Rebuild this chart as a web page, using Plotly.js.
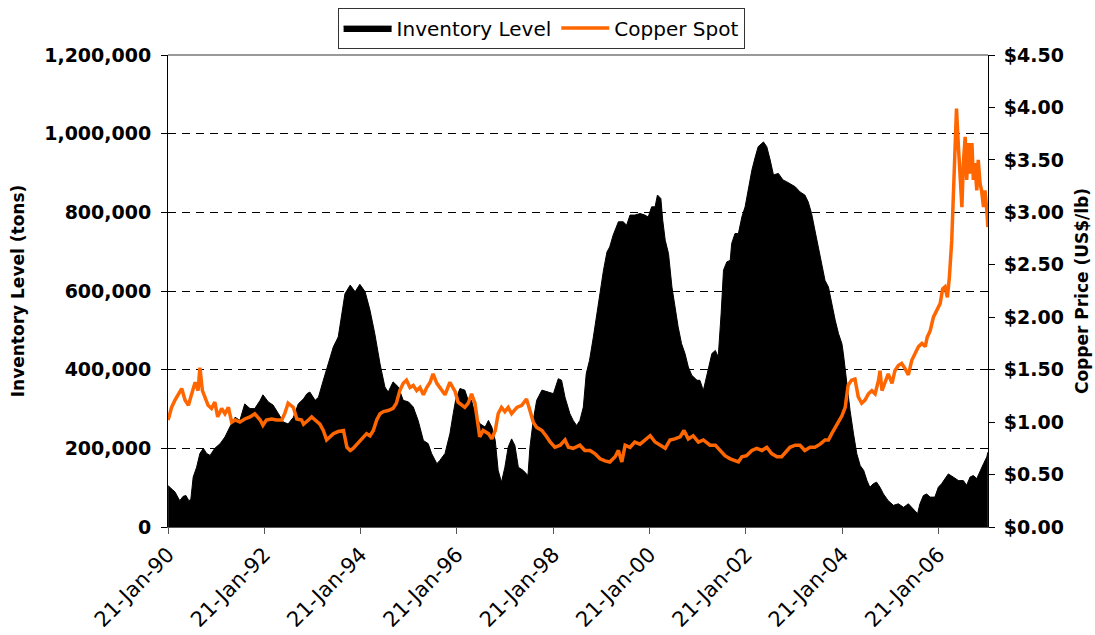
<!DOCTYPE html>
<html>
<head>
<meta charset="utf-8">
<script src="https://cdn.plot.ly/plotly-3.0.1.min.js"></script>
<style>html,body{margin:0;padding:0;background:#fff;}#chart{width:1095px;height:635px;}</style>
</head>
<body>
<div id="chart"></div>
<script>
// ---- Data (decimal years) ----
const invYears = [1990.06,1990.20,1990.30,1990.37,1990.43,1990.49,1990.53,1990.58,1990.65,1990.72,1990.79,1990.86,1990.93,1991.03,1991.14,1991.24,1991.34,1991.45,1991.55,1991.65,1991.76,1991.86,1991.97,1992.03,1992.14,1992.24,1992.35,1992.45,1992.55,1992.66,1992.76,1992.87,1992.94,1993.00,1993.11,1993.18,1993.28,1993.38,1993.49,1993.59,1993.66,1993.73,1993.84,1993.94,1994.04,1994.15,1994.25,1994.35,1994.46,1994.56,1994.63,1994.73,1994.84,1994.94,1995.05,1995.15,1995.25,1995.36,1995.46,1995.53,1995.64,1995.70,1995.81,1995.91,1995.98,1996.03,1996.12,1996.22,1996.29,1996.36,1996.43,1996.53,1996.64,1996.71,1996.78,1996.85,1996.91,1996.98,1997.05,1997.12,1997.19,1997.26,1997.33,1997.43,1997.53,1997.57,1997.64,1997.71,1997.82,1997.95,1998.06,1998.16,1998.23,1998.30,1998.40,1998.47,1998.54,1998.61,1998.68,1998.74,1998.81,1998.89,1998.96,1999.03,1999.10,1999.17,1999.23,1999.30,1999.41,1999.51,1999.58,1999.65,1999.75,1999.86,1999.96,2000.03,2000.10,2000.17,2000.22,2000.29,2000.33,2000.38,2000.45,2000.52,2000.58,2000.65,2000.72,2000.79,2000.86,2000.93,2001.04,2001.10,2001.17,2001.28,2001.35,2001.42,2001.48,2001.54,2001.59,2001.66,2001.73,2001.76,2001.83,2001.90,2001.97,2002.04,2002.11,2002.18,2002.25,2002.31,2002.42,2002.49,2002.56,2002.63,2002.73,2002.83,2002.90,2002.97,2003.08,2003.18,2003.28,2003.35,2003.42,2003.49,2003.56,2003.63,2003.70,2003.77,2003.84,2003.91,2003.98,2004.05,2004.08,2004.15,2004.22,2004.29,2004.36,2004.43,2004.50,2004.57,2004.63,2004.70,2004.77,2004.84,2004.91,2005.01,2005.12,2005.22,2005.33,2005.43,2005.50,2005.57,2005.62,2005.67,2005.74,2005.81,2005.88,2005.98,2006.05,2006.12,2006.19,2006.26,2006.36,2006.47,2006.57,2006.64,2006.71,2006.78,2006.85,2006.92,2006.99,2007.06,2007.08];
const invTons = [105000,89000,67000,78000,80000,67000,70000,127000,152000,187000,200000,187000,182000,200000,212000,229000,254000,279000,271000,313000,301000,301000,322000,336000,318000,310000,288000,267000,262000,279000,313000,326000,339000,343000,322000,330000,373000,415000,458000,483000,534000,593000,615000,598000,617000,598000,551000,492000,415000,356000,343000,369000,356000,322000,318000,305000,271000,220000,212000,187000,161000,169000,187000,237000,288000,322000,352000,348000,322000,322000,288000,263000,254000,271000,254000,220000,144000,114000,152000,203000,224000,207000,152000,144000,131000,203000,271000,322000,348000,343000,339000,377000,373000,330000,288000,271000,258000,271000,305000,390000,424000,483000,543000,593000,653000,699000,712000,742000,776000,776000,767000,793000,793000,797000,793000,788000,814000,814000,844000,835000,780000,729000,695000,610000,559000,509000,466000,441000,407000,386000,373000,373000,347000,407000,441000,449000,432000,543000,653000,674000,678000,721000,746000,746000,788000,814000,865000,907000,941000,967000,979000,967000,933000,895000,899000,882000,878000,873000,865000,852000,844000,827000,797000,755000,712000,661000,627000,610000,568000,526000,492000,466000,441000,364000,296000,237000,186000,156000,144000,118000,101000,110000,114000,101000,84000,67000,55000,59000,50000,59000,50000,42000,34000,59000,80000,84000,76000,76000,101000,110000,123000,135000,127000,118000,118000,106000,127000,131000,123000,144000,161000,178000,190000];

const cuYears = [1990.06,1990.13,1990.20,1990.27,1990.34,1990.41,1990.48,1990.55,1990.62,1990.68,1990.72,1990.77,1990.82,1990.89,1990.96,1991.03,1991.09,1991.17,1991.24,1991.31,1991.38,1991.45,1991.55,1991.65,1991.76,1991.86,1991.97,1992.03,1992.10,1992.21,1992.31,1992.42,1992.48,1992.55,1992.66,1992.73,1992.83,1992.87,1992.97,1993.04,1993.11,1993.21,1993.28,1993.35,1993.42,1993.49,1993.59,1993.70,1993.77,1993.84,1993.90,1993.97,1994.08,1994.18,1994.25,1994.32,1994.39,1994.46,1994.53,1994.63,1994.73,1994.80,1994.87,1994.94,1995.01,1995.08,1995.15,1995.22,1995.29,1995.36,1995.43,1995.50,1995.56,1995.64,1995.70,1995.81,1995.91,1996.02,1996.08,1996.15,1996.22,1996.29,1996.36,1996.43,1996.49,1996.53,1996.60,1996.71,1996.78,1996.85,1996.91,1996.98,1997.05,1997.12,1997.19,1997.30,1997.40,1997.50,1997.57,1997.64,1997.71,1997.82,1997.92,1997.99,1998.09,1998.20,1998.30,1998.37,1998.47,1998.61,1998.71,1998.82,1998.92,1999.03,1999.13,1999.23,1999.34,1999.41,1999.48,1999.55,1999.65,1999.75,1999.86,1999.96,2000.07,2000.17,2000.27,2000.38,2000.48,2000.58,2000.69,2000.77,2000.86,2000.96,2001.07,2001.17,2001.31,2001.42,2001.52,2001.62,2001.73,2001.83,2001.90,2001.97,2002.07,2002.18,2002.28,2002.39,2002.49,2002.59,2002.70,2002.80,2002.87,2002.97,2003.08,2003.18,2003.28,2003.39,2003.49,2003.60,2003.70,2003.77,2003.84,2003.91,2003.98,2004.05,2004.12,2004.15,2004.18,2004.25,2004.32,2004.39,2004.46,2004.53,2004.60,2004.67,2004.74,2004.81,2004.84,2004.88,2004.95,2005.01,2005.09,2005.15,2005.22,2005.29,2005.36,2005.43,2005.50,2005.57,2005.64,2005.71,2005.78,2005.82,2005.88,2005.95,2006.02,2006.09,2006.14,2006.19,2006.24,2006.28,2006.33,2006.36,2006.38,2006.40,2006.43,2006.47,2006.50,2006.54,2006.57,2006.61,2006.64,2006.68,2006.71,2006.75,2006.78,2006.81,2006.85,2006.88,2006.92,2006.95,2006.99,2007.02,2007.06,2007.08];
const cuPrice = [1.02,1.14,1.21,1.27,1.32,1.21,1.16,1.27,1.38,1.30,1.52,1.30,1.24,1.16,1.13,1.19,1.05,1.13,1.08,1.14,1.00,1.02,1.00,1.03,1.05,1.08,1.02,0.97,1.02,1.03,1.02,1.02,1.08,1.18,1.14,1.03,1.02,0.98,1.02,1.05,1.02,0.98,0.92,0.83,0.86,0.89,0.91,0.92,0.76,0.73,0.75,0.79,0.84,0.89,0.87,0.92,1.02,1.08,1.10,1.11,1.13,1.18,1.30,1.37,1.40,1.33,1.35,1.30,1.33,1.26,1.33,1.38,1.46,1.37,1.33,1.26,1.38,1.29,1.19,1.16,1.14,1.18,1.27,1.18,0.95,0.86,0.92,0.89,0.84,0.92,1.08,1.14,1.10,1.14,1.08,1.14,1.16,1.22,1.11,1.00,0.95,0.92,0.86,0.81,0.76,0.78,0.83,0.76,0.75,0.78,0.73,0.73,0.70,0.65,0.63,0.62,0.67,0.73,0.62,0.78,0.76,0.81,0.79,0.83,0.87,0.81,0.78,0.75,0.83,0.84,0.86,0.92,0.84,0.87,0.81,0.83,0.78,0.78,0.73,0.68,0.65,0.63,0.62,0.67,0.68,0.73,0.75,0.73,0.76,0.70,0.67,0.67,0.71,0.76,0.78,0.78,0.73,0.76,0.76,0.79,0.83,0.83,0.89,0.95,1.00,1.06,1.14,1.24,1.35,1.40,1.41,1.24,1.18,1.21,1.27,1.30,1.27,1.40,1.49,1.30,1.40,1.46,1.37,1.49,1.54,1.56,1.51,1.45,1.59,1.65,1.72,1.75,1.72,1.81,1.87,2.00,2.07,2.13,2.27,2.29,2.19,2.38,2.73,3.12,3.47,3.53,3.99,3.62,3.40,3.05,3.47,3.72,3.31,3.66,3.37,3.66,3.31,3.47,3.21,3.50,3.27,3.21,3.05,3.21,3.02,2.86];

const tickDates = ['1990-01-21','1992-01-21','1994-01-21','1996-01-21','1998-01-21','2000-01-21','2002-01-21','2004-01-21','2006-01-21'];
const tickLabels = ['21-Jan-90','21-Jan-92','21-Jan-94','21-Jan-96','21-Jan-98','21-Jan-00','21-Jan-02','21-Jan-04','21-Jan-06'];

function toDate(y){
  const Y = Math.floor(y);
  const s = Date.UTC(Y,0,1), e = Date.UTC(Y+1,0,1);
  return new Date(s + (y - Y) * (e - s)).toISOString().slice(0,10);
}

const FONT = 'DejaVu Sans, Verdana, sans-serif';

const traces = [
  {
    x: invYears.map(toDate), y: invTons, name: 'Inventory Level',
    type: 'scatter', mode: 'lines', fill: 'tozeroy',
    fillcolor: '#000000', line: {color: '#000000', width: 1},
    yaxis: 'y', hoverinfo: 'skip'
  },
  {
    x: cuYears.map(toDate), y: cuPrice, name: 'Copper Spot',
    type: 'scatter', mode: 'lines',
    line: {color: '#FF6600', width: 3.5},
    yaxis: 'y2', hoverinfo: 'skip'
  }
];

const layout = {
  width: 1095, height: 635, autosize: false,
  margin: {l: 168, r: 107, t: 55, b: 108, pad: 0, autoexpand: false},
  paper_bgcolor: '#ffffff', plot_bgcolor: '#ffffff',
  font: {family: FONT, color: '#000000'},
  showlegend: true,
  legend: {
    orientation: 'h', x: 0.455, xanchor: 'center',
    yref: 'container', y: 0.988, yanchor: 'top',
    font: {family: FONT, size: 20, color: '#000'},
    bgcolor: '#ffffff', bordercolor: '#333333', borderwidth: 1,
    itemwidth: 48, traceorder: 'normal'
  },
  xaxis: {
    type: 'date', range: ['1990-01-21', '2007-01-31'],
    tickmode: 'array', tickvals: tickDates, ticktext: tickLabels,
    tickangle: -45, tickfont: {family: FONT, size: 21, color: '#000'},
    ticks: 'outside', ticklen: 6, tickcolor: '#555555', tickwidth: 1,
    showline: true, linecolor: '#555555', linewidth: 1,
    showgrid: false, zeroline: false
  },
  yaxis: {
    range: [0, 1200000], dtick: 200000, tick0: 0, tickformat: ',d',
    tickfont: {family: FONT, size: 19, color: '#000'},
    ticks: 'outside', ticklen: 6, tickcolor: '#000', tickwidth: 1,
    ticklabelstandoff: 6,
    showline: true, linecolor: '#000', linewidth: 1,
    showgrid: true, gridcolor: '#000000', gridwidth: 1, griddash: '8px,6px',
    zeroline: false,
    title: {text: 'Inventory Level (tons)', font: {family: FONT, size: 17, color: '#000', weight: 'bold'}, standoff: 25}
  },
  yaxis2: {
    overlaying: 'y', side: 'right', range: [0, 4.5], dtick: 0.5, tick0: 0,
    tickformat: '.2f', tickprefix: '$',
    tickfont: {family: FONT, size: 19, color: '#000'},
    ticks: 'outside', ticklen: 6, tickcolor: '#000', tickwidth: 1,
    ticklabelstandoff: 5,
    showline: true, linecolor: '#000', linewidth: 1,
    showgrid: false, zeroline: false,
    title: {text: 'Copper Price (US$/lb)', font: {family: FONT, size: 17, color: '#000', weight: 'bold'}, standoff: 18}
  },
  shapes: [
    {type: 'line', xref: 'paper', yref: 'paper', x0: 0, x1: 1, y0: 1, y1: 1,
     line: {color: '#777777', width: 1.5}, layer: 'above'}
  ]
};

Plotly.newPlot('chart', traces, layout, {staticPlot: true, displayModeBar: false}).then(function(){
  document.querySelectorAll('.ytick text, .y2tick text').forEach(function(t){ t.style.fontWeight = 'bold'; });
});
</script>
</body>
</html>
